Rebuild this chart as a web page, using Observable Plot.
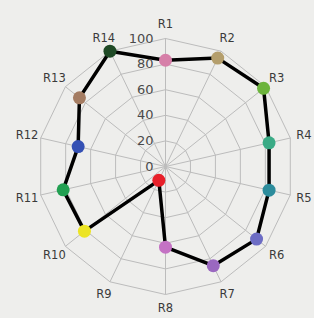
<!DOCTYPE html>
<html><head><meta charset="utf-8">
<script src="https://cdn.jsdelivr.net/npm/d3@7"></script>
<script src="https://cdn.jsdelivr.net/npm/@observablehq/plot@0.6"></script>
<style>
html,body{margin:0;padding:0;background:#eeeeec;}
#chart{width:314px;height:318px;overflow:hidden;}
</style>
</head><body><div id="chart"></div>
<script>
const categories = ["R1","R2","R3","R4","R5","R6","R7","R8","R9","R10","R11","R12","R13","R14"];
const values = [83, 94, 98, 83, 83, 91, 86, 63, 12, 81, 82, 70, 86, 100];
const colors = ["#d67fa8","#b49e6c","#6cb43c","#3aab86","#2c8c9c","#6c6cc4","#9a68c0","#c472c4","#e8202a","#ece424","#22a052","#3450b4","#a47c62","#1f4a26"];
const ringTicks = [0, 20, 40, 60, 80, 100];

const n = categories.length;
const ang = i => (2 * Math.PI * i) / n;
const px = (i, v) => v * Math.sin(ang(i));
const py = (i, v) => v * Math.cos(ang(i));

const rings = ringTicks.filter(t => t > 0).flatMap(t =>
  d3.range(n + 1).map(k => ({ring: t, x: px(k % n, t), y: py(k % n, t)})));
const spokes = categories.map((c, i) => ({x1: 0, y1: 0, x2: px(i, 100), y2: py(i, 100)}));
const pts = categories.map((c, i) => ({cat: c, x: px(i, values[i]), y: py(i, values[i]), color: colors[i]}));
const loop = [...pts, pts[0]];
const labels = categories.map((c, i) => ({cat: c, x: px(i, 111), y: py(i, 111)}));
const tickLabels = ringTicks.map(t => ({t, x: 0, y: t}));

const k = 1.28;
const plot = Plot.plot({
  width: 314, height: 318,
  margin: 0,
  style: {background: "#eeeeec", fontFamily: "DejaVu Sans, sans-serif"},
  x: {domain: [-165 / k, (314 - 165) / k], axis: null},
  y: {domain: [-(318 - 166) / k, 166 / k], axis: null},
  marks: [
    Plot.line(rings, {x: "x", y: "y", z: "ring", stroke: "#bcbcbc", strokeWidth: 1, curve: "linear"}),
    Plot.link(spokes, {x1: "x1", y1: "y1", x2: "x2", y2: "y2", stroke: "#bcbcbc", strokeWidth: 1}),
    Plot.line(loop, {x: "x", y: "y", stroke: "#000", strokeWidth: 3.5, curve: "linear"}),
    Plot.dot(pts, {x: "x", y: "y", r: 6.5, fill: "color", stroke: "none"}),
    Plot.text(tickLabels, {x: "x", y: "y", text: d => String(d.t), textAnchor: "end", dx: -12, fontSize: 13, fill: "#4a4a4a"}),
    Plot.text(labels, {x: "x", y: "y", text: "cat", fontSize: 11.5, fill: "#3a3a3a"})
  ]
});
document.getElementById("chart").appendChild(plot);
</script>
</body></html>
